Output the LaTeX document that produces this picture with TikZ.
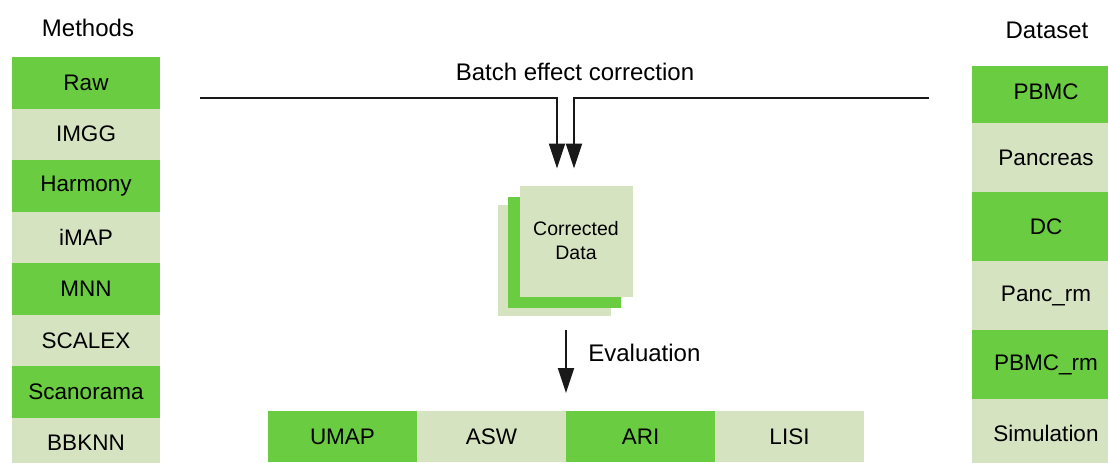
\documentclass[tikz,border=0pt]{standalone}
\usepackage{fontspec}
\setmainfont{Liberation Sans}
\usetikzlibrary{positioning}
\usetikzlibrary{arrows.meta}
\definecolor{leafgreen}{RGB}{106,204,64}
\definecolor{palegreen}{RGB}{214,227,193}
\tikzset{x=1pt,y=-1pt, % One unit is one pixel of the layout
every node/.style={outer sep=0pt},
dark cell/.style={ % Sets the properties for the bright rows
fill=leafgreen,
inner sep=0pt},
light cell/.style={ % Sets the properties for the pale rows
fill=palegreen,
inner sep=0pt},
method/.style={minimum width=148pt,minimum height=51.5pt,font=\fontsize{22.5}{27}\selectfont},
dataset/.style={minimum width=148pt,minimum height=69pt,font=\fontsize{22.5}{27}\selectfont},
metric/.style={minimum width=149pt,minimum height=51pt,font=\fontsize{22.5}{27}\selectfont},
databox/.style={minimum width=113pt,minimum height=111pt},
heading/.style={font=\fontsize{24}{29}\selectfont},
flow/.style={ % Sets the properties for each arrow
draw=black!90,
line width=2pt,
-{Triangle[width=16pt,length=25pt]}}}

\begin{document}
\begin{tikzpicture}
  \clip (0,0) rectangle (1108,463);
  % headings
  \node[heading] (methods) at (88,28) {Methods};
  \node[heading] (dataset) at (1047,30) {Dataset};
  \node[heading] (batch)   at (575,72) {Batch effect correction};
  % methods column
  \node[dark cell,method]  (raw)       at (86,82.75)        {Raw};
  \node[light cell,method] (imgg)      [below=0pt of raw]     {IMGG};
  \node[dark cell,method]  (harmony)   [below=0pt of imgg]    {Harmony};
  \node[light cell,method] (imap)      [below=0pt of harmony] {iMAP};
  \node[dark cell,method]  (mnn)       [below=0pt of imap]    {MNN};
  \node[light cell,method] (scalex)    [below=0pt of mnn]     {SCALEX};
  \node[dark cell,method]  (scanorama) [below=0pt of scalex]  {Scanorama};
  \node[light cell,method] (bbknn)     [below=0pt of scanorama] {BBKNN};
  % dataset column
  \node[dark cell,dataset,minimum height=57pt] (pbmc) at (1046,94.5) {\raisebox{6.5pt}{PBMC}};
  \node[light cell,dataset] (pancreas)   [below=0pt of pbmc]     {Pancreas};
  \node[dark cell,dataset]  (dc)         [below=0pt of pancreas] {DC};
  \node[light cell,dataset] (pancrm)     [below=0pt of dc]       {Panc\_rm};
  \node[dark cell,dataset]  (pbmcrm)     [below=0pt of pancrm]   {PBMC\_rm};
  \node[light cell,dataset] (simulation) [below=0pt of pbmcrm]   {Simulation};
  % corrected data stack
  \node[light cell,databox] (back)  at (554,260.5) {};
  \node[dark cell,databox]  (mid)   at (564,252)   {};
  \node[light cell,databox,align=center,font=\fontsize{19.5}{24}\selectfont] (front) at (576,241) {Corrected\\Data};
  % evaluation row
  \node[dark cell,metric]  (umap) at (342.5,436.5)   {UMAP};
  \node[light cell,metric] (asw)  [right=0pt of umap] {ASW};
  \node[dark cell,metric]  (ari)  [right=0pt of asw]  {ARI};
  \node[light cell,metric] (lisi) [right=0pt of ari]  {LISI};
  % arrows
  \coordinate (inleft)  at (200,98);
  \coordinate (inright) at (929,98);
  \draw[flow] (inleft)  -| ([xshift=-19pt,yshift=17pt]front.north);
  \draw[flow] (inright) -| ([xshift=-2pt,yshift=17pt]front.north);
  \draw[flow] ([yshift=-14pt]back.south -| ari.west) -- ([yshift=18pt]ari.north west);
  \node[heading,anchor=west] (evaluation) at (585,353) {Evaluation};
\end{tikzpicture}
\end{document}
